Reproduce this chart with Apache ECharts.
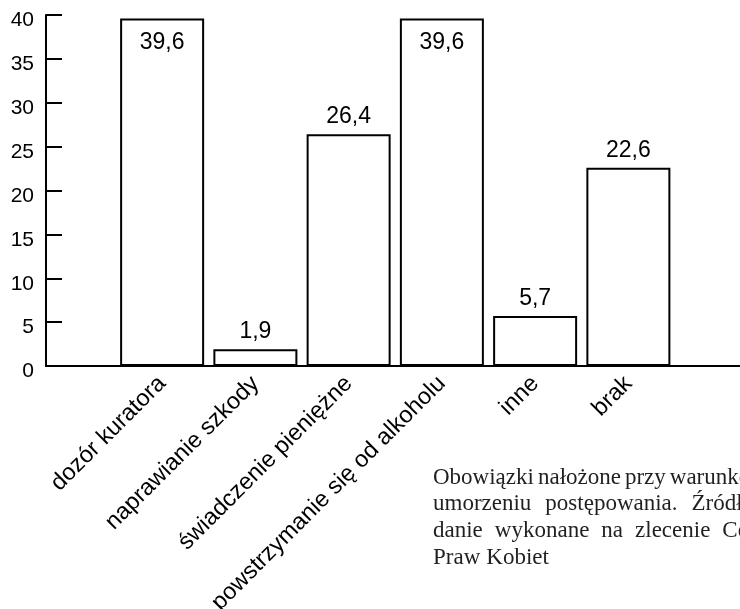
<!DOCTYPE html>
<html>
<head>
<meta charset="utf-8">
<style>
  html, body { margin: 0; padding: 0; background: #fff; }
  #chart { width: 740px; height: 609px; }
</style>
<script src="https://cdn.jsdelivr.net/npm/echarts@6/dist/echarts.min.js"></script>
</head>
<body>
<div id="chart"></div>
<script>
// Obowiązki nałożone przy warunkowym umorzeniu postępowania (%)
const categories = [
  'dozór kuratora',
  'naprawianie szkody',
  'świadczenie pieniężne',
  'powstrzymanie się od alkoholu',
  'inne',
  'brak'
];
const values = [39.6, 1.9, 26.4, 39.6, 5.7, 22.6];
const yTicks = [0, 5, 10, 15, 20, 25, 30, 35, 40];

// Caption lines (justified paragraph set in a serif face)
const captionLines = [
  ['Obowiązki', 'nałożone', 'przy', 'warunkowym'],
  ['umorzeniu', 'postępowania.', 'Źródło:'],
  ['danie', 'wykonane', 'na', 'zlecenie', 'Centrum'],
  ['Praw', 'Kobiet']
];
const captionGaps = [4, 14, 12, 6];

const SANS = 'Liberation Sans, Arial, sans-serif';
const SERIF = 'Liberation Serif, Times New Roman, serif';
const yMin = yTicks[0];
const yMax = yTicks[yTicks.length - 1];
const yStep = yTicks[1] - yTicks[0];

const fmt = v => v.toFixed(1).replace('.', ',');

// Bars reaching the top of the scale carry their value inside.
const barData = values.map(v => ({
  value: v,
  label: v > yMax - 5
    ? { position: 'insideTop', distance: 13 }
    : { position: 'top', distance: 6 }
}));

function captionRich(words) {
  return words.map(w => '{w|' + w + '}').join('{g|}');
}

const chart = echarts.init(document.getElementById('chart'), null, { renderer: 'canvas' });

chart.setOption({
  animation: false,
  backgroundColor: '#ffffff',
  grid: [
    { left: 115.5, right: 65, top: 15, bottom: 243, containLabel: false, outerBoundsMode: 'none' },
    { left: 46, right: -40, top: 15, bottom: 243, containLabel: false, outerBoundsMode: 'none' }
  ],
  xAxis: [
    {
      type: 'category',
      gridIndex: 0,
      data: categories,
      axisLine: { show: false },
      axisTick: { show: false },
      axisLabel: {
        rotate: 45,
        margin: 14,
        interval: 0,
        color: '#000',
        fontFamily: SANS,
        fontSize: 23.5
      }
    },
    {
      type: 'value',
      gridIndex: 1,
      min: 0,
      max: 1,
      axisLine: { show: true, lineStyle: { color: '#000', width: 2 } },
      axisTick: { show: false },
      axisLabel: { show: false },
      splitLine: { show: false }
    }
  ],
  yAxis: [
    {
      type: 'value',
      gridIndex: 0,
      min: yMin,
      max: yMax,
      interval: yStep,
      show: false
    },
    {
      type: 'value',
      gridIndex: 1,
      min: yMin,
      max: yMax,
      interval: yStep,
      axisLine: { show: true, lineStyle: { color: '#000', width: 2 } },
      axisTick: { show: true, inside: true, length: 16, lineStyle: { color: '#000', width: 2 } },
      splitLine: { show: false },
      axisLabel: {
        color: '#000',
        fontFamily: SANS,
        fontSize: 21,
        margin: 12,
        verticalAlign: 'top',
        lineHeight: 11
      }
    }
  ],
  series: [
    {
      type: 'bar',
      xAxisIndex: 0,
      yAxisIndex: 0,
      data: barData,
      barWidth: 84,
      itemStyle: { color: '#ffffff', borderColor: '#000', borderWidth: 2 },
      label: {
        show: true,
        color: '#000',
        fontFamily: SANS,
        fontSize: 23,
        formatter: p => fmt(p.value)
      },
      z: 1
    }
  ],
  graphic: captionLines.map((words, i) => ({
    type: 'text',
    left: 433,
    top: 466 + i * 26.7,
    silent: true,
    style: {
      text: captionRich(words),
      rich: {
        w: { fontFamily: SERIF, fontSize: 23, fill: '#231f20' },
        g: { width: captionGaps[i] }
      }
    }
  }))
});
</script>
</body>
</html>
